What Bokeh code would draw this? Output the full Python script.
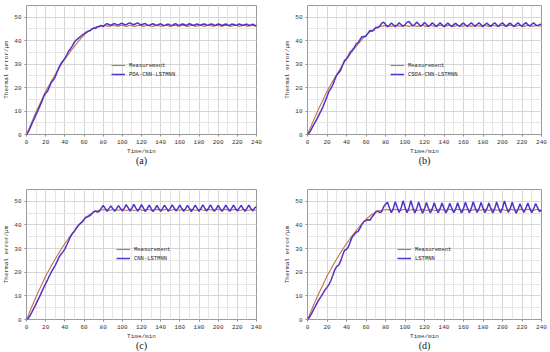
from bokeh.plotting import figure
from bokeh.layouts import column, row
from bokeh.models import SingleIntervalTicker, Title, Range1d, Legend, LegendItem
from bokeh.embed import file_html
from bokeh.resources import INLINE

time_min = list(range(0, 241, 2))

measurement = [
    0.0, 1.9, 3.9, 5.8, 7.7, 9.6, 11.4, 13.1, 14.8, 16.6, 18.4, 19.9, 21.3, 22.8, 24.2, 25.6,
    27.0, 28.3, 29.6, 30.9, 32.1, 33.2, 34.4, 35.5, 36.6, 37.6, 38.6, 39.6, 40.6, 41.5, 42.4,
    43.1, 43.8, 44.4, 44.9, 45.4, 45.8, 46.0, 46.2, 46.3, 46.4,
    46.5, 46.3, 46.1, 46.3, 46.6, 46.4, 46.2, 46.2, 46.5, 46.6, 46.3, 46.1, 46.3, 46.6, 46.4, 46.1,
    46.2, 46.5, 46.6, 46.3, 46.1, 46.3, 46.6, 46.4, 46.2, 46.1, 46.4, 46.6, 46.4, 46.2, 46.2, 46.5,
    46.6, 46.3, 46.1, 46.3, 46.6, 46.5, 46.2, 46.2, 46.5, 46.6, 46.3, 46.1, 46.4, 46.6, 46.4, 46.2,
    46.2, 46.5, 46.6, 46.3, 46.1, 46.4, 46.6, 46.4, 46.2, 46.2, 46.5, 46.6, 46.3, 46.1, 46.4, 46.6,
    46.5, 46.2, 46.2, 46.5, 46.6, 46.4, 46.1, 46.3, 46.6, 46.5, 46.2, 46.2, 46.4, 46.6, 46.3, 46.2,
]

poa_cnn_lstmnn = [
    0.0, 1.2, 3.0, 4.9, 6.6, 8.6, 10.3, 12.2, 14.0, 16.3, 17.6, 18.5, 20.4, 22.3, 23.2, 24.6,
    26.8, 28.7, 30.2, 31.4, 32.4, 33.9, 35.6, 36.6, 37.9, 39.4, 40.3, 41.0, 41.6, 42.4, 42.9,
    43.5, 44.0, 44.2, 44.8, 45.4, 45.2, 45.9, 46.0, 46.5, 46.0,
    46.8, 47.3, 46.9, 46.5, 47.0, 47.3, 46.8, 46.7, 47.2, 47.4, 46.9, 46.8, 47.3, 47.6, 47.1, 46.8,
    47.2, 47.6, 47.0, 46.7, 47.1, 47.3, 46.7, 46.5, 46.9, 47.2, 46.8, 46.5, 46.9, 47.2, 46.7, 46.4,
    46.8, 47.1, 46.6, 46.5, 47.0, 47.2, 46.6, 46.6, 47.1, 47.0, 46.5, 46.8, 47.2, 46.9, 46.5, 46.8,
    47.1, 46.8, 46.6, 47.0, 47.1, 46.7, 46.6, 47.1, 47.0, 46.6, 46.7, 47.1, 46.9, 46.5, 46.8, 47.1,
    46.7, 46.5, 47.0, 47.0, 46.6, 46.7, 47.1, 46.8, 46.5, 46.9, 47.0, 46.6, 46.7, 47.0, 46.6, 46.3,
]

csoa_cnn_lstmnn = [
    0.0, 0.8, 2.3, 3.9, 5.4, 6.9, 8.6, 10.2, 12.0, 14.1, 16.2, 18.4, 19.6, 21.2, 23.5, 25.4,
    26.3, 27.4, 29.6, 31.5, 32.3, 33.6, 35.2, 36.0, 37.1, 38.6, 39.2, 40.6, 41.8, 41.7, 42.0,
    43.1, 44.4, 44.0, 44.5, 45.7, 45.5, 46.2, 47.4, 47.9, 47.0,
    45.9, 46.6, 47.5, 46.8, 46.0, 46.7, 47.6, 46.9, 46.1, 46.8, 47.8, 48.2, 47.2, 46.2, 46.9, 47.9,
    47.1, 46.1, 46.8, 47.7, 47.0, 46.0, 46.7, 47.6, 46.9, 46.0, 46.8, 47.6, 46.8, 45.9, 46.8, 47.5,
    46.7, 46.0, 46.9, 47.4, 46.6, 46.1, 47.0, 47.5, 46.7, 46.0, 46.9, 47.6, 46.8, 46.1, 47.0, 47.6,
    46.8, 46.0, 46.9, 47.5, 46.7, 46.1, 47.0, 47.6, 46.8, 46.0, 47.1, 47.6, 46.7, 46.1, 47.0, 47.5,
    46.6, 46.0, 47.0, 47.6, 46.7, 46.1, 47.1, 47.7, 46.8, 46.2, 47.0, 47.6, 46.7, 46.3, 46.9, 47.0,
]

cnn_lstmnn = [
    0.0, 0.6, 1.8, 3.4, 5.0, 6.6, 8.3, 10.0, 11.8, 13.5, 15.2, 16.8, 18.5, 20.1, 21.5, 22.9,
    24.6, 26.4, 27.6, 28.6, 29.8, 31.5, 33.3, 35.1, 36.4, 37.4, 38.6, 39.8, 40.6, 41.2, 42.3,
    43.3, 43.5, 43.9, 44.6, 45.6, 45.9, 45.4, 45.8, 47.0, 48.3,
    47.1, 45.8, 46.9, 48.1, 46.9, 45.8, 46.9, 48.2, 47.0, 45.9, 47.0, 48.6, 47.3, 45.9, 47.1, 48.7,
    47.2, 45.8, 47.0, 48.6, 47.1, 45.7, 46.9, 48.4, 47.0, 45.7, 46.8, 48.3, 47.0, 45.8, 46.9, 48.4,
    47.1, 45.8, 47.0, 48.5, 47.2, 45.9, 47.0, 48.4, 47.0, 45.8, 46.9, 48.3, 47.0, 45.7, 46.9, 48.4,
    47.1, 45.8, 47.0, 48.5, 47.1, 45.9, 47.1, 48.5, 47.0, 45.8, 46.9, 48.3, 47.0, 45.8, 47.0, 48.4,
    47.1, 45.8, 47.0, 48.4, 47.0, 45.9, 47.1, 48.3, 46.9, 45.8, 47.0, 48.4, 47.0, 45.9, 47.1, 47.8,
]

lstmnn = [
    0.0, 0.9, 2.4, 4.0, 5.6, 7.1, 8.5, 9.8, 11.2, 12.5, 13.6, 14.8, 16.5, 18.7, 21.0, 22.5,
    23.0, 24.8, 27.2, 29.3, 29.6, 30.8, 33.0, 35.0, 36.0, 36.9, 37.3, 38.8, 40.4, 41.4, 41.9,
    42.2, 42.0, 43.3, 44.3, 45.6, 45.9, 45.3, 45.6, 47.6, 48.8,
    49.6, 47.3, 45.2, 47.0, 49.8, 47.5, 45.3, 47.2, 50.2, 47.6, 45.2, 47.0, 50.3, 47.5, 45.1, 46.9,
    49.7, 47.2, 45.0, 46.8, 49.5, 47.1, 45.1, 46.9, 49.4, 47.0, 45.2, 47.0, 49.3, 47.0, 45.1, 46.9,
    49.2, 47.0, 45.2, 46.9, 49.4, 47.1, 45.1, 47.0, 49.6, 47.2, 45.2, 47.1, 49.8, 47.3, 45.3, 47.0,
    49.5, 47.1, 45.2, 46.9, 49.3, 47.0, 45.1, 46.9, 49.7, 47.2, 45.2, 47.2, 50.2, 47.5, 45.3, 47.1,
    49.6, 47.1, 45.0, 46.8, 49.0, 46.9, 45.3, 47.2, 49.3, 47.0, 45.2, 46.9, 49.1, 47.3, 45.6, 46.4,
]

captions = ["(a)", "(b)", "(c)", "(d)"]
model_names = ["POA-CNN-LSTMNN", "CSOA-CNN-LSTMNN", "CNN-LSTMNN", "LSTMNN"]
x_ticks_interval = 20
y_ticks_interval = 10

MEAS_COLOR = "#c07444"
PRED_COLOR = "#4e34c8"
TICK_FONT = "Liberation Mono"


def make_panel(pred, name, caption, left, right, top, bottom, width, height, legend_loc):
    p = figure(width=width, height=height, output_backend="svg", toolbar_location=None,
               title=None, x_range=Range1d(0, 240), y_range=Range1d(0, 55),
               min_border_left=left, min_border_right=right,
               min_border_top=top, min_border_bottom=bottom)
    p.background_fill_color = "white"
    p.border_fill_color = "white"
    p.outline_line_color = "#9a9a9a"
    p.outline_line_width = 1

    p.xaxis.ticker = SingleIntervalTicker(interval=x_ticks_interval, num_minor_ticks=2)
    p.yaxis.ticker = SingleIntervalTicker(interval=y_ticks_interval, num_minor_ticks=2)
    p.xgrid.grid_line_color = "#d6d6d6"
    p.ygrid.grid_line_color = "#d6d6d6"
    p.xgrid.minor_grid_line_color = "#e6e6e6"
    p.ygrid.minor_grid_line_color = "#e6e6e6"

    for ax in (p.xaxis[0], p.yaxis[0]):
        ax.axis_line_color = None
        ax.major_tick_line_color = "#888888"
        ax.major_tick_out = 2
        ax.major_tick_in = 0
        ax.minor_tick_line_color = None
        ax.major_label_text_font = TICK_FONT
        ax.major_label_text_font_size = "6px"
        ax.major_label_text_color = "#333333"
        ax.major_label_standoff = 1
        ax.axis_label_text_font = TICK_FONT
        ax.axis_label_text_font_size = "6px"
        ax.axis_label_text_font_style = "normal"
        ax.axis_label_text_color = "#333333"
        ax.axis_label_standoff = 1
    p.xaxis.axis_label = "Time/min"
    p.yaxis.axis_label = "Thermal error/\u03bcm"

    r1 = p.line(time_min, measurement, line_color=MEAS_COLOR, line_width=1.1)
    r2 = p.line(time_min, pred, line_color=PRED_COLOR, line_width=1.5)

    legend = Legend(items=[LegendItem(label="Measurement", renderers=[r1]),
                           LegendItem(label=name, renderers=[r2])],
                    location=legend_loc)
    legend.border_line_color = None
    legend.background_fill_alpha = 0
    legend.padding = 0
    legend.margin = 0
    legend.spacing = 1
    legend.glyph_width = 14
    legend.glyph_height = 8
    legend.label_height = 8
    legend.label_standoff = 4
    legend.label_text_font = TICK_FONT
    legend.label_text_font_size = "5.5px"
    legend.label_text_color = "#222222"
    p.add_layout(legend, "center")

    cap = Title(text=caption, align="center", text_font="Liberation Serif",
                text_font_size="10px", text_font_style="normal", standoff=-10,
                text_color="#111111")
    p.add_layout(cap, "below")
    return p


pa = make_panel(poa_cnn_lstmnn, model_names[0], captions[0], 22, 19, 5, 42, 275, 176, (85, 56))
pb = make_panel(csoa_cnn_lstmnn, model_names[1], captions[1], 32, 9, 5, 42, 275, 176, (83, 56))
pc = make_panel(cnn_lstmnn, model_names[2], captions[2], 22, 19, 13, 33, 275, 176, (90, 57))
pd = make_panel(lstmnn, model_names[3], captions[3], 32, 9, 13, 33, 275, 176, (90, 57))

layout = column(row(pa, pb), row(pc, pd))
open("out.html", "w").write(file_html(layout, INLINE))
